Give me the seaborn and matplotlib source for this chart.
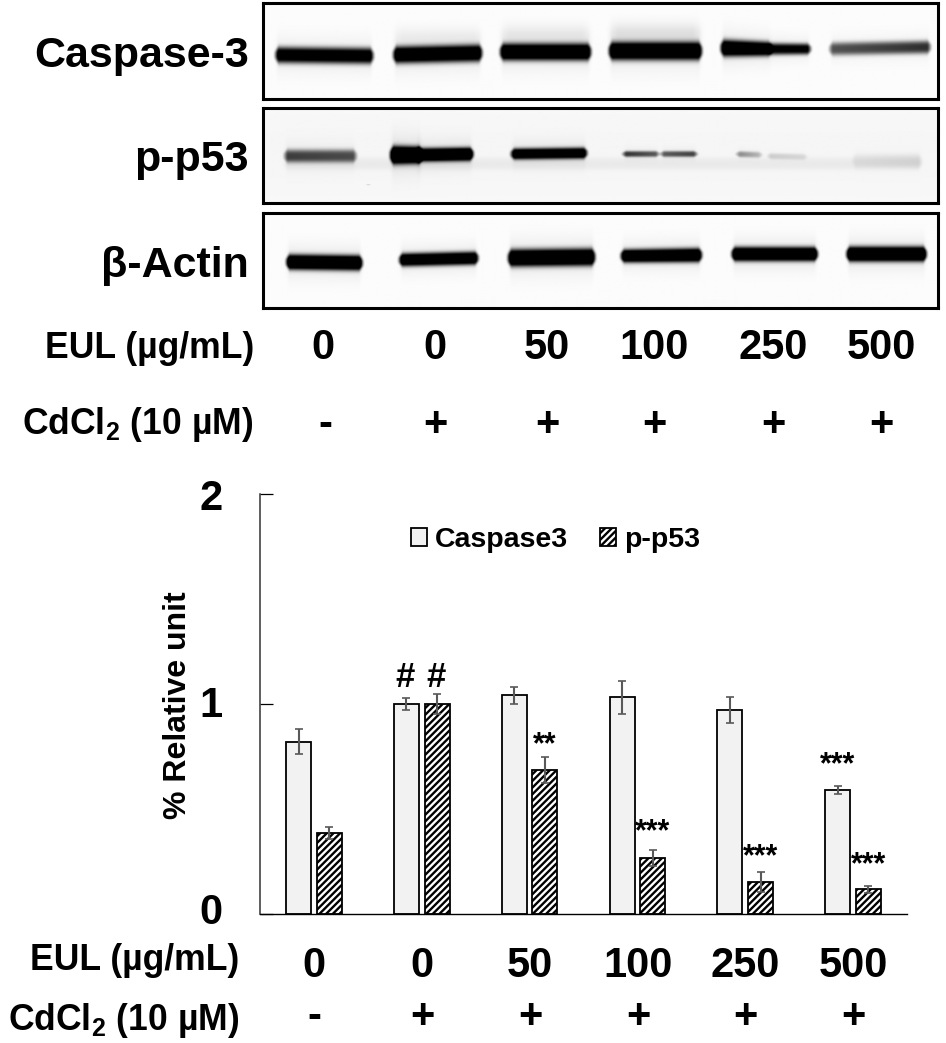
import numpy as np
import pandas as pd
import matplotlib
matplotlib.use("Agg")
import matplotlib.pyplot as plt
import seaborn as sns

W, H = 946, 1043
doses = ["0", "0", "50", "100", "250", "500"]
cadmium = ["-", "+", "+", "+", "+", "+"]
caspase3 = [0.82, 1.00, 1.04, 1.03, 0.97, 0.59]
caspase3_err = [0.058, 0.028, 0.042, 0.08, 0.06, 0.02]
pp53 = [0.385, 1.00, 0.685, 0.265, 0.15, 0.115]
pp53_err = [0.028, 0.048, 0.063, 0.037, 0.047, 0.017]
series_names = ["Caspase3", "p-p53"]
marks_caspase = ["", "#", "", "", "", "***"]
marks_caspase_y = [0, 1.045, 0, 0, 0, 0.722]
marks_p53 = ["", "#", "**", "***", "***", "***"]
marks_p53_y = [0, 1.045, 0.818, 0.403, 0.284, 0.245]

# blot bands: x0, x1, y-left, y-right, half-height left/right, darkness left/right
blot_caspase = [
    (272, 376, 55, 56, 8, 8, .9, .9), (390, 485, 55, 53, 8.5, 8.5, 1.0, 1.0),
    (497, 594, 52, 52, 8.5, 8.5, 1.05, 1.05), (606, 705, 51, 51, 9, 9, 1.1, 1.1),
    (718, 775, 48, 49, 8.5, 7, 1.1, 1.0), (765, 814, 49, 49, 6, 5.5, .8, .8),
    (827, 934, 49, 47, 6.5, 6.5, .5, .62),
]
blot_p53 = [
    (281, 359, 156, 156, 6.5, 6.5, .55, .5),
    (387, 425, 155, 155, 9, 8, 1.3, 1.3), (412, 476, 155, 154, 6.5, 6.5, 1.2, 1.2),
    (508, 590, 154, 153, 5.5, 5.5, 1.0, 1.0),
    (620, 662, 154, 154, 3, 3, .6, .45), (658, 700, 154, 154, 3, 3, .45, .55),
    (734, 765, 154, 155, 3, 3, .35, .15), (765, 810, 156, 157, 3, 3, .12, .08),
    (850, 925, 161, 161, 7, 7, .05, .08), (281, 925, 164, 164, 6, 6, .035, .035),
    (396, 400, 141, 141, .8, .8, 1.5, 1.5), (365, 371, 185, 185, .8, .8, 1.2, 1.2),
]
blot_actin = [
    (283, 365, 262, 263, 7.5, 7.5, 1.15, 1.15), (396, 481, 260, 258, 6.5, 6.5, 1.05, 1.05),
    (505, 598, 258, 257, 8.5, 8.5, 1.15, 1.15), (618, 705, 256, 255, 6.5, 7, 1.1, 1.1),
    (729, 821, 254, 254, 7, 7, 1.15, 1.15), (844, 930, 254, 254, 7.5, 7.5, 1.15, 1.15),
]
blot_panels = [("Caspase-3", (3, 99), blot_caspase), ("p-p53", (108, 203), blot_p53),
               ("β-Actin", (213, 308), blot_actin)]
blot_haze = {"Caspase-3": [(497, 594, 35, 10, .06), (606, 705, 33, 10, .08), (390, 485, 37, 9, .04)],
             "p-p53": [(200, 1000, 155, 80, .025)]}

sns.set_theme(style="white")
plt.rcParams["font.family"] = ["Liberation Sans", "DejaVu Sans"]
plt.rcParams.update({"mathtext.fontset": "custom", "mathtext.bf": "Liberation Sans:bold",
                     "mathtext.rm": "Liberation Sans", "hatch.linewidth": 1.7,
                     "text.color": "black"})

fig = plt.figure(figsize=(W / 100, H / 100), dpi=100)


def px_axes(x0, y0, x1, y1):
    return fig.add_axes([x0 / W, 1 - y1 / H, (x1 - x0) / W, (y1 - y0) / H])


def ptext(x, y, s, size, weight="bold", ha="center", **kw):
    fig.text(x / W, 1 - y / H, s, fontsize=size, fontweight=weight, ha=ha, va="center", color="black", **kw)


def render_blot(bands, haze, ytop, ybot):
    xs = np.arange(263, 939)
    ys = np.arange(ytop, ybot + 1)
    X, Y = np.meshgrid(xs, ys)
    dark = np.zeros_like(X, dtype=float) + 0.012
    for x0, x1, yl, yr, hl, hr, dl, dr in bands:
        t = np.clip((X - x0) / (x1 - x0), 0, 1)
        yc, hh, dd = yl + (yr - yl) * t, hl + (hr - hl) * t, dl + (dr - dl) * t
        edge = np.clip((X - x0) / 7, 0, 1) * np.clip((x1 - X) / 7, 0, 1)
        edge = edge * edge * (3 - 2 * edge)
        u = np.abs(Y - yc) / (hh * (0.45 + 0.55 * edge))
        dark += dd * edge * (1.25 * np.exp(-u ** 3) + .07 * np.exp(-(u / 2.2) ** 2))
    for x0, x1, yc, hh, dd in haze:
        edge = np.clip((X - x0) / 12, 0, 1) * np.clip((x1 - X) / 12, 0, 1)
        dark += dd * edge * np.exp(-((Y - yc) / hh) ** 2)
    return 1 - np.clip(dark, 0, 1)


for name, (ytop, ybot), bands in blot_panels:
    bax = px_axes(263, ytop, 938, ybot)
    img = render_blot(bands, blot_haze.get(name, []), ytop, ybot)
    bax.imshow(img, cmap="gray", vmin=0, vmax=1, aspect="auto", interpolation="bilinear")
    bax.set_xticks([])
    bax.set_yticks([])
    for s in bax.spines.values():
        s.set_linewidth(2.2)
        s.set_color("black")
    ptext(249, (ytop + ybot) / 2 + 5, name, 31, ha="right")

# upper labels
for x, d in zip([323, 435, 547, 654, 773, 881], doses):
    ptext(x, 348, d, 30)
for x, c in zip([325, 435, 547, 654, 773, 881], cadmium):
    ptext(x, 425, c, 30)
ptext(254, 349, "EUL (µg/mL)", 25.6, ha="right")
ptext(253, 425, r"CdCl$_{\mathbf{2}}$ (10 µM)", 25.6, ha="right")

# bar chart
ax = px_axes(260, 494, 907, 913.5)
df = pd.DataFrame({
    "group": list(range(6)) * 2,
    "series": [series_names[0]] * 6 + [series_names[1]] * 6,
    "value": caspase3 + pp53,
})
sns.barplot(data=df, x="group", y="value", hue="series", palette=["#f2f2f2", "#ffffff"], saturation=1,
            width=0.568, gap=0.183, edgecolor="black", linewidth=1.3, errorbar=None, ax=ax, legend=False)
for bar in ax.containers[1]:
    bar.set_hatch("/////")
for cont, errs, marks, mark_y in zip(ax.containers, [caspase3_err, pp53_err],
                                     [marks_caspase, marks_p53], [marks_caspase_y, marks_p53_y]):
    for bar, e, m, my in zip(cont, errs, marks, mark_y):
        cx = bar.get_x() + bar.get_width() / 2
        ax.errorbar(cx, bar.get_height(), yerr=e, color="#595959", elinewidth=1.5, capsize=3, capthick=1.2, zorder=5)
        if m == "#":
            ax.text(cx - 0.01, my, m, fontsize=25, fontweight="bold", ha="center", va="bottom", color="black")
        elif m:
            ax.text(cx, my, m, fontsize=22, fontweight="bold", ha="center", va="center_baseline", color="black")
ax.set_xlim(-0.5, 5.5)
ax.set_ylim(0, 2)
ax.set_yticks([0, 1, 2])
ax.set_yticklabels([])
ax.set_xticks([])
ax.set_xlabel("")
ax.set_ylabel("")
ax.tick_params(axis="y", direction="in", length=9.4, width=0.9, left=True, color="black")
sns.despine(ax=ax)
ax.spines["left"].set_linewidth(1.1)
ax.spines["left"].set_color("#333333")
ax.spines["bottom"].set_linewidth(1.0)
ax.spines["bottom"].set_color("black")
ax.patch.set_alpha(0)
leg = ax.legend([c[0] for c in ax.containers], series_names, loc="center",
                bbox_to_anchor=((555.5 - 260) / 647, (913.5 - 540) / 419.5), frameon=False, ncols=2,
                prop={"weight": "bold", "size": 20.5}, handlelength=0.55, handleheight=0.55,
                handletextpad=0.28, columnspacing=1.15, borderpad=0, labelcolor="black")

for y, s in zip([499, 706, 913], ["2", "1", "0"]):
    ptext(211, y, s, 30)
ptext(178, 705, "% Relative unit", 23, rotation=90)
for x, d in zip([314, 422, 530, 638, 745, 853], doses):
    ptext(x, 966, d, 30)
for x, c in zip([314, 422, 530, 638, 745, 853], cadmium):
    ptext(x, 1017, c, 30)
ptext(239, 961, "EUL (µg/mL)", 25.6, ha="right")
ptext(239, 1021, r"CdCl$_{\mathbf{2}}$ (10 µM)", 25.6, ha="right")

fig.savefig("out.png", dpi=100, facecolor="white")
